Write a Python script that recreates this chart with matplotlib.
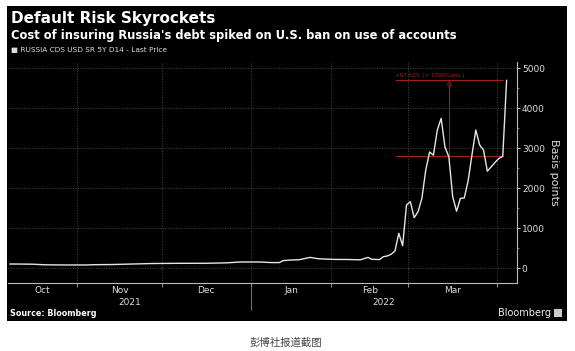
import numpy as np
import matplotlib
matplotlib.use('Agg')
import matplotlib.pyplot as plt
from matplotlib.patches import Rectangle
from matplotlib.transforms import blended_transform_factory

# dados (CDS Russia 5 anos, em pontos-base)
inicio = '2021-10-06'
datas = ['2021-10-06', '2021-10-11', '2021-10-14', '2021-10-19', '2021-10-26',
         '2021-11-03', '2021-11-05', '2021-11-11', '2021-11-17', '2021-11-26',
         '2021-12-07', '2021-12-16', '2021-12-23', '2021-12-29', '2022-01-05',
         '2022-01-10', '2022-01-12', '2022-01-13', '2022-01-17', '2022-01-19',
         '2022-01-24', '2022-01-26', '2022-02-01', '2022-02-07', '2022-02-10',
         '2022-02-14', '2022-02-15', '2022-02-17', '2022-02-18', '2022-02-21',
         '2022-02-22', '2022-02-23', '2022-02-24', '2022-02-25', '2022-02-28',
         '2022-03-01', '2022-03-02', '2022-03-03', '2022-03-04', '2022-03-07',
         '2022-03-08', '2022-03-09', '2022-03-10', '2022-03-11', '2022-03-14',
         '2022-03-15', '2022-03-16', '2022-03-17', '2022-03-18', '2022-03-21',
         '2022-03-22', '2022-03-23', '2022-03-24', '2022-03-25', '2022-03-28',
         '2022-03-29', '2022-03-30', '2022-03-31', '2022-04-01', '2022-04-04',
         '2022-04-05']
valores = [100, 98, 95, 80, 76,
           76, 83, 86, 95, 112,
           117, 118, 128, 150, 150,
           135, 136, 185, 200, 205,
           265, 232, 215, 212, 205,
           265, 218, 210, 283, 300,
           342, 425, 867, 558, 1575,
           1658, 1258, 1408, 1742, 2450,
           2900, 2820, 3450, 3740, 3020,
           2780, 1780, 1420, 1740, 1750,
           2175, 2825, 3450, 3075, 2950,
           2420, 2530, 2640, 2740, 2790,
           4690]

meses = ['Oct', 'Nov', 'Dec', 'Jan', 'Feb', 'Mar']
inicio_meses = ['2021-11-01', '2021-12-01', '2022-01-01', '2022-02-01', '2022-03-01', '2022-04-01']
anos = ['2021', '2022']
yticks = [0, 1000, 2000, 3000, 4000, 5000]

# anotacao vermelha
anot_inicio, anot_fim, anot_meio = '2022-02-23', '2022-04-04', '2022-03-15'
anot_base, anot_topo = 2800, 4690
anot_texto = '+67.62% (> 1000%ann.)'

# eixo x em dias uteis
x = np.busday_count(inicio, datas)
marcas = np.busday_count(inicio, np.busday_offset(inicio_meses, 0, roll='forward')) - 0.5
xmin, xmax = -0.5, 131.7

W, H = 575, 351
fig = plt.figure(figsize=(W / 100, H / 100), dpi=100, facecolor='white')
fig.patches.append(Rectangle((7 / W, 1 - 321 / H), 560 / W, 315 / H,
                             transform=fig.transFigure, facecolor='black', zorder=-5))

ax = fig.add_axes([8 / W, 1 - 283 / H, 509 / W, 221 / H])
ax.set_facecolor('black')
ax.plot(x, valores, color='#e6e6e6', linewidth=1.0, zorder=3)
ax.set_xlim(xmin, xmax)
ax.set_ylim(-375, 5150)

ax.yaxis.tick_right()
ax.set_yticks(yticks)
ax.set_yticklabels([str(v) for v in yticks], color='#dddddd', fontsize=6.5)
ax.set_yticks(np.arange(-0, 5001, 500), minor=True)
ax.tick_params(axis='y', which='major', length=2, color='#bbbbbb', pad=1.5)
ax.tick_params(axis='y', which='minor', length=1.5, color='#888888')
ax.set_ylabel('Basis points', color='#dddddd', fontsize=8, rotation=270, labelpad=10)
ax.yaxis.set_label_position('right')

ax.set_xticks(marcas)
ax.set_xticklabels([])
ax.tick_params(axis='x', length=3, color='#888888')

for s in ['left', 'top']:
    ax.spines[s].set_visible(False)
ax.spines['right'].set_color('#bbbbbb')
ax.spines['bottom'].set_color('#bbbbbb')
ax.spines['right'].set_linewidth(0.8)
ax.spines['bottom'].set_linewidth(0.8)

ax.grid(True, which='major', color='#4a4a4a', linestyle=':', linewidth=0.7)

# rotulos dos meses e anos
tr = blended_transform_factory(ax.transData, ax.transAxes)
limites = [xmin] + list(marcas)
for i, m in enumerate(meses):
    ax.text((limites[i] + limites[i + 1]) / 2, -0.032, m, transform=tr, ha='center', va='center',
            color='#dddddd', fontsize=6.5)
sep = marcas[2]
ax.text((xmin + sep) / 2, -0.086, anos[0], transform=tr, ha='center', va='center',
        color='#dddddd', fontsize=6.5)
ax.text((sep + xmax) / 2, -0.086, anos[1], transform=tr, ha='center', va='center',
        color='#dddddd', fontsize=6.5)
ax.plot([sep, sep], [0, -0.12], transform=tr, color='#888888', linewidth=0.6, clip_on=False)

# anotacao
vermelho = '#a3201f'
xa0, xa1, xam = np.busday_count(inicio, [anot_inicio, anot_fim, anot_meio])
ax.hlines([anot_base, anot_topo], xa0, xa1, color=vermelho, linewidth=0.8, zorder=2)
ax.vlines(xam, anot_base, anot_topo, color=vermelho, linewidth=0.8, zorder=2)
ax.plot(xam, anot_topo - 80, marker='o', markersize=2.5, markerfacecolor='black',
        markeredgecolor=vermelho, markeredgewidth=0.7, zorder=4)
ax.text(xa0, anot_topo + 60, anot_texto, color=vermelho, fontsize=4, ha='left', va='bottom')

# titulos e rodape
fig.text(11 / W, 1 - 18 / H, 'Default Risk Skyrockets', color='white', fontsize=11,
         fontweight='bold', va='center')
fig.text(11 / W, 1 - 35 / H, "Cost of insuring Russia's debt spiked on U.S. ban on use of accounts",
         color='white', fontsize=8.3, fontweight='bold', va='center')
fig.text(11 / W, 1 - 50 / H, '\u25a0 RUSSIA CDS USD SR 5Y D14 - Last Price', color='#dddddd',
         fontsize=5.3, va='center')
fig.text(10 / W, 1 - 314 / H, 'Source: Bloomberg', color='white', fontsize=5.8,
         fontweight='bold', va='center')
fig.text(551 / W, 1 - 313 / H, 'Bloomberg', color='#eeeeee', fontsize=7, ha='right', va='center')
fig.patches.append(Rectangle((554 / W, 1 - 317 / H), 8 / W, 8 / H, transform=fig.transFigure,
                             facecolor='#cccccc', zorder=1))
fig.text(286 / W, 1 - 343 / H, '彭博社报道截图', color='#444444', fontsize=7.5,
         family=['Noto Sans CJK SC', 'DejaVu Sans'], ha='center', va='center')

fig.savefig('out.png', dpi=100, facecolor='white')
